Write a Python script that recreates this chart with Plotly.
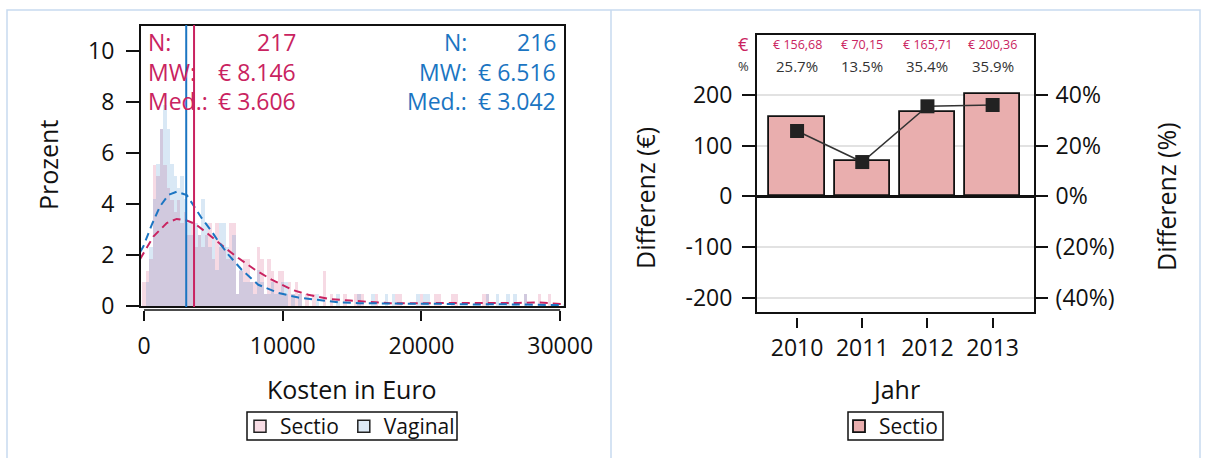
import plotly.graph_objects as go

# ---------------- data ----------------
BIN_WIDTH = 250
FIRST_MID = 0
sectio_pct = [
    0.92, 1.38, 1.84, 5.53, 5.07, 6.91, 5.53, 4.61, 4.15, 3.69,
    4.15, 3.23, 3.69, 2.76, 3.23, 2.30, 2.76, 2.30, 2.76, 3.23,
    1.84, 3.23, 2.30, 2.30, 1.84, 3.23, 3.23, 0.46, 1.38, 1.84,
    1.84, 0.92, 0.92, 2.30, 1.84, 0.46, 1.84, 1.38, 0.92, 1.38,
    1.38, 0.46, 0.92, 0.46, 0.92, 0.46, 0.00, 0.46, 0.00, 0.46,
    0.00, 0.00, 1.38, 0.00, 0.46, 0.00, 0.00, 0.00, 0.46, 0.00,
    0.00, 0.46, 0.46, 0.46, 0.00, 0.00, 0.00, 0.46, 0.00, 0.00,
    0.00, 0.00, 0.00, 0.46, 0.46, 0.00, 0.00, 0.00, 0.00, 0.00,
    0.46, 0.00, 0.00, 0.00, 0.46, 0.46, 0.00, 0.00, 0.00, 0.46,
    0.46, 0.00, 0.00, 0.00, 0.00, 0.00, 0.00, 0.00, 0.46, 0.46,
    0.00, 0.00, 0.00, 0.00, 0.00, 0.00, 0.00, 0.00, 0.00, 0.00,
    0.46, 0.00, 0.00, 0.00, 0.46, 0.00, 0.00, 0.46, 0.00, 0.00,
]
vaginal_pct = [
    0.00, 0.93, 2.31, 4.17, 5.56, 6.94, 7.87, 6.94, 5.56, 5.09,
    4.63, 5.09, 4.17, 3.24, 2.78, 3.24, 2.78, 4.17, 3.24, 2.31,
    2.78, 1.39, 3.24, 3.24, 2.31, 1.85, 2.78, 0.46, 1.39, 0.93,
    0.93, 0.93, 0.46, 1.39, 0.93, 0.46, 0.46, 0.93, 0.46, 0.46,
    0.93, 0.93, 0.00, 0.46, 0.00, 0.46, 0.00, 0.00, 0.00, 0.00,
    0.46, 0.00, 0.00, 0.00, 0.00, 0.00, 0.46, 0.00, 0.00, 0.00,
    0.00, 0.00, 0.46, 0.00, 0.00, 0.00, 0.46, 0.00, 0.00, 0.00,
    0.46, 0.00, 0.46, 0.00, 0.00, 0.00, 0.00, 0.00, 0.00, 0.46,
    0.00, 0.46, 0.46, 0.00, 0.00, 0.00, 0.00, 0.00, 0.00, 0.00,
    0.00, 0.00, 0.00, 0.00, 0.00, 0.00, 0.00, 0.00, 0.00, 0.46,
    0.00, 0.00, 0.46, 0.00, 0.00, 0.46, 0.00, 0.46, 0.00, 0.00,
    0.46, 0.00, 0.00, 0.00, 0.00, 0.00, 0.00, 0.00, 0.00, 0.00,
]
dens_sec_x = [-290, -170, 670, 1640, 2355, 3080, 3680, 4400, 5240, 6000, 6800, 8000,
              9200, 10650, 11850, 13410, 14850, 16290, 17740, 19420, 20860, 22500,
              24000, 25500, 27000, 28300, 29500, 30350]
dens_sec_y = [1.82, 1.93, 2.71, 3.24, 3.40, 3.34, 3.21, 2.91, 2.52, 2.20, 1.87, 1.41,
              1.02, 0.63, 0.43, 0.26, 0.20, 0.14, 0.10, 0.10, 0.10, 0.10,
              0.11, 0.10, 0.11, 0.13, 0.08, 0.06]
dens_vag_x = [-290, -50, 555, 1150, 1750, 2355, 3080, 3555, 4160, 4880, 5360, 6080,
              7040, 8240, 9680, 11130, 12690, 14130, 15570, 17250, 19000, 20860,
              22500, 24000, 25500, 27000, 28300, 29500, 30350]
dens_vag_y = [2.10, 2.32, 3.17, 3.89, 4.34, 4.47, 4.34, 3.95, 3.43, 2.91, 2.52, 2.00,
              1.41, 0.82, 0.50, 0.32, 0.21, 0.13, 0.10, 0.08, 0.08, 0.08,
              0.06, 0.05, 0.06, 0.05, 0.05, 0.03, 0.02]
sectio_median = 3606
vaginal_median = 3042
stat_labels = ["N:", "MW:", "Med.:"]
sectio_stats = ["217", "€ 8.146", "€ 3.606"]
vaginal_stats = ["216", "€ 6.516", "€ 3.042"]
hist_xticks = [0, 10000, 20000, 30000]
hist_xticktext = ["0", "10000", "20000", "30000"]
hist_yticks = [0, 2, 4, 6, 8, 10]

years = [2010, 2011, 2012, 2013]
diff_eur = [156.68, 70.15, 165.71, 200.36]
diff_pct = [25.7, 13.5, 35.4, 35.9]
eur_labels = ["€ 156,68", "€ 70,15", "€ 165,71", "€ 200,36"]
pct_labels = ["25.7%", "13.5%", "35.4%", "35.9%"]
eur_ticks = [-200, -100, 0, 100, 200]
eur_ticktext = ["-200", "-100", "0", "100", "200"]
pct_ticks = [-40, -20, 0, 20, 40]
pct_ticktext = ["(40%)", "(20%)", "0%", "20%", "40%"]

# ---------------- style ----------------
W, H = 1208, 458
FONT = "Open Sans"
RED = "#C92360"
BLUE = "#1B75C2"
PINK_FILL = "rgba(201,35,96,0.17)"
BLUE_FILL = "rgba(27,117,194,0.17)"
BAR_FILL = "#E9AEAE"
FRAME_BLUE = "#C7DAEF"
INK = "#111"


def px(x):
    return x / W


def py(y):
    return 1 - y / H


fig = go.Figure()

# ---- left: histograms ----
fig.add_trace(go.Bar(y=sectio_pct, x0=FIRST_MID, dx=BIN_WIDTH, width=BIN_WIDTH,
                     marker=dict(color=PINK_FILL, line=dict(width=0)),
                     showlegend=False, xaxis="x", yaxis="y", hoverinfo="skip"))
fig.add_trace(go.Bar(y=vaginal_pct, x0=FIRST_MID, dx=BIN_WIDTH, width=BIN_WIDTH,
                     marker=dict(color=BLUE_FILL, line=dict(width=0)),
                     showlegend=False, xaxis="x", yaxis="y", hoverinfo="skip"))
fig.add_trace(go.Scatter(x=dens_sec_x, y=dens_sec_y, mode="lines",
                         line=dict(color=RED, width=2, dash="8px,5px"),
                         showlegend=False, xaxis="x", yaxis="y"))
fig.add_trace(go.Scatter(x=dens_vag_x, y=dens_vag_y, mode="lines",
                         line=dict(color=BLUE, width=2, dash="8px,5px"),
                         showlegend=False, xaxis="x", yaxis="y"))
# legend entries
fig.add_trace(go.Bar(x=[None], y=[None], name="Sectio", xaxis="x", yaxis="y",
                     marker=dict(color="#F8DDE5", line=dict(color="#222", width=1.5)),
                     legend="legend"))
fig.add_trace(go.Bar(x=[None], y=[None], name="Vaginal", xaxis="x", yaxis="y",
                     marker=dict(color="#DDEAF6", line=dict(color="#222", width=1.5)),
                     legend="legend"))

# ---- right: bars + pct line ----
fig.add_trace(go.Bar(x=years, y=diff_eur, width=0.85, name="Sectio",
                     marker=dict(color=BAR_FILL, line=dict(color=INK, width=1.8)),
                     xaxis="x2", yaxis="y2", legend="legend2"))
fig.add_trace(go.Scatter(x=years, y=diff_pct, mode="lines+markers",
                         line=dict(color="#333", width=1.5),
                         marker=dict(symbol="square", size=14, color="#222"),
                         showlegend=False, xaxis="x2", yaxis="y3"))

tickfont = dict(family=FONT, size=23, color=INK)
common_tick = dict(ticks="outside", tickwidth=1.5, tickcolor=INK, showline=False,
                   tickfont=tickfont, automargin=False)

fig.update_layout(
    width=W, height=H,
    margin=dict(l=0, r=0, t=0, b=0),
    paper_bgcolor="white", plot_bgcolor="white",
    barmode="overlay", bargap=0,
    font=dict(family=FONT, color=INK),
    xaxis=dict(domain=[px(140), px(565)], range=[-290, 30350], anchor="free",
               position=py(310), tickvals=hist_xticks, ticktext=hist_xticktext,
               ticklen=10, ticklabelstandoff=5, showgrid=False, zeroline=False,
               **common_tick),
    yaxis=dict(domain=[py(307), py(25)], range=[-0.05, 11.0], anchor="x",
               tickvals=hist_yticks, ticklen=13, ticklabelstandoff=7,
               showgrid=False, zeroline=False, **common_tick),
    xaxis2=dict(domain=[px(756), px(1035)], range=[2009.37, 2013.65], anchor="free",
                position=py(317), tickvals=years, ticklen=10, ticklabelstandoff=0,
                showgrid=False, zeroline=False, **common_tick),
    yaxis2=dict(domain=[py(313), py(34)], range=[-229, 319], anchor="x2",
                tickvals=eur_ticks, ticktext=eur_ticktext, ticklen=13,
                ticklabelstandoff=5, showgrid=True, gridcolor="#E2E2E2",
                gridwidth=1.5, zeroline=True, zerolinecolor=INK, zerolinewidth=3,
                **common_tick),
    yaxis3=dict(range=[-45.8, 63.8], overlaying="y2", side="right", anchor="x2",
                tickvals=pct_ticks, ticktext=pct_ticktext, ticklen=12,
                ticklabelstandoff=3, showgrid=False, zeroline=False, **common_tick),
    legend=dict(orientation="h", x=px(350), y=py(426.5), xanchor="center",
                yanchor="middle", borderwidth=0, bgcolor="rgba(0,0,0,0)",
                font=dict(family=FONT, size=21, color=INK),
                itemwidth=30, tracegroupgap=0),
    legend2=dict(orientation="h", x=px(891), y=py(426.5), xanchor="center",
                 yanchor="middle", borderwidth=0, bgcolor="rgba(0,0,0,0)",
                 font=dict(family=FONT, size=21, color=INK), itemwidth=30),
)

shapes = []
# panel borders
shapes.append(dict(type="rect", xref="paper", yref="paper", x0=px(7), x1=px(1200),
                   y0=py(480), y1=py(10), line=dict(color=FRAME_BLUE, width=1.5)))
shapes.append(dict(type="line", xref="paper", yref="paper", x0=px(611), x1=px(611),
                   y0=py(480), y1=py(10), line=dict(color=FRAME_BLUE, width=1.5)))
# legend boxes
shapes.append(dict(type="rect", xref="paper", yref="paper", x0=px(247), x1=px(457),
                   y0=py(440), y1=py(412), line=dict(color=INK, width=1.5)))
shapes.append(dict(type="rect", xref="paper", yref="paper", x0=px(848), x1=px(943),
                   y0=py(440), y1=py(412), line=dict(color=INK, width=1.5)))
# plot frames
for xr, yr in (("x domain", "y domain"), ("x2 domain", "y2 domain")):
    shapes.append(dict(type="rect", xref=xr, yref=yr, x0=0, x1=1, y0=0, y1=1,
                       line=dict(color=INK, width=2), layer="above"))
# offset x-axis line of histogram
shapes.append(dict(type="line", xref="x", yref="paper", x0=hist_xticks[0],
                   x1=hist_xticks[-1], y0=py(310), y1=py(310),
                   line=dict(color=INK, width=1.5)))
# median lines
for med, col in ((vaginal_median, BLUE), (sectio_median, RED)):
    shapes.append(dict(type="line", xref="x", yref="y domain", x0=med, x1=med,
                       y0=0, y1=1, line=dict(color=col, width=2), layer="above"))
fig.update_layout(shapes=shapes)


def note(text, x, y, size, color, xanchor="center", angle=0, xref="paper"):
    return dict(text=text, xref=xref, yref="paper", x=x, y=y, xanchor=xanchor,
                yanchor="middle", textangle=angle, showarrow=False,
                font=dict(family=FONT, size=size, color=color))


ann = []
stat_y = [42, 72, 101]
for lab, sv, vv, yy in zip(stat_labels, sectio_stats, vaginal_stats, stat_y):
    ann.append(note(lab, px(146), py(yy), 23, RED, "left"))
    ann.append(note(sv, px(298), py(yy), 23, RED, "right"))
    ann.append(note(lab, px(469), py(yy), 23, BLUE, "right"))
    ann.append(note(vv, px(558), py(yy), 23, BLUE, "right"))

# axis titles
ann.append(note("Prozent", px(48), py(165), 25, INK, angle=-90))
ann.append(note("Kosten in Euro", px(352), py(389), 25, INK))
ann.append(note("Differenz (€)", px(645), py(198), 25, INK, angle=-90))
ann.append(note("Differenz (%)", px(1166), py(197), 25, INK, angle=-90))
ann.append(note("Jahr", px(896), py(389), 25, INK))

# axis table at top of right panel
ann.append(note("€", px(751), py(44), 18, RED, "right"))
ann.append(note("%", px(751), py(66), 13, "#333", "right"))
for yr, el, pl in zip(years, eur_labels, pct_labels):
    ann.append(note(el, yr, py(44), 12.5, RED, xref="x2"))
    ann.append(note(pl, yr, py(66), 15, "#333", xref="x2"))
fig.update_layout(annotations=ann)

fig.write_html("out.html")
